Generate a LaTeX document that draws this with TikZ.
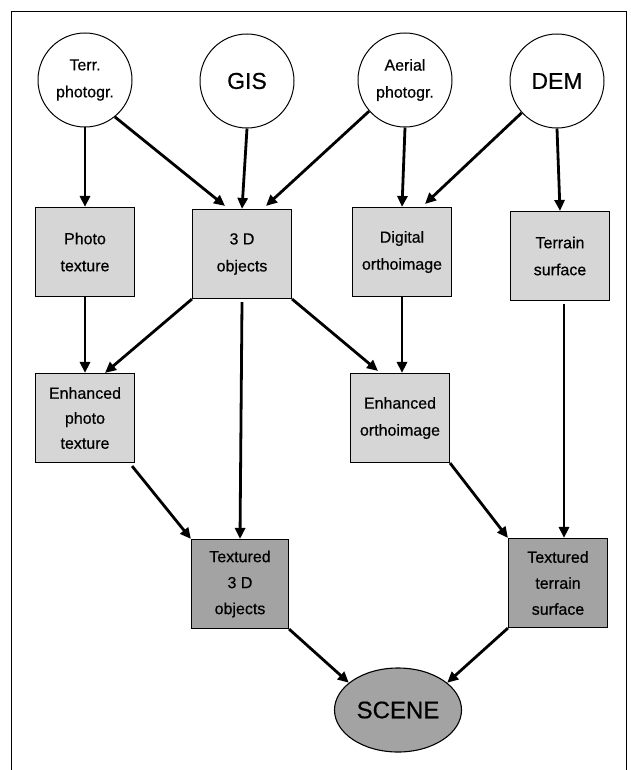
\documentclass[tikz,border=0pt]{standalone}
\usepackage{fontspec}
\setmainfont{Liberation Sans}[FakeBold=0.5]
\usetikzlibrary{arrows.meta,shapes.geometric}
\definecolor{lightbox}{gray}{0.84}
\definecolor{darkbox}{gray}{0.64}
\begin{document}
\begin{tikzpicture}[x=1pt,y=-1pt,
  src/.style={circle,draw,line width=1pt,minimum size=94pt,inner sep=0pt,align=center,font=\fontsize{16}{27}\selectfont},
  bigsrc/.style={src,font=\fontsize{23}{27}\selectfont},
  lbox/.style={rectangle,draw,line width=1.1pt,fill=lightbox,minimum width=99pt,minimum height=89pt,inner sep=0pt,align=center,font=\fontsize{16}{27}\selectfont},
  lbox3/.style={lbox,font=\fontsize{16}{25}\selectfont},
  dbox/.style={lbox,fill=darkbox,font=\fontsize{16}{26}\selectfont},
  sceneshape/.style={ellipse,draw,line width=1.1pt,fill=darkbox,minimum width=127pt,minimum height=84pt,inner sep=0pt,font=\fontsize{24}{28}\selectfont},
  conn/.style={line width=2.8pt,-{Triangle[length=11pt,width=10pt]}},
  frameline/.style={line width=1pt}
]
\useasboundingbox (0,0) rectangle (630,770);
\fill[white] (0,0) rectangle (630,770);
% frame
\coordinate (fbl) at (11,770);
\coordinate (ftl) at (11,12);
\coordinate (ftr) at (626,12);
\coordinate (fbr) at (626,770);
\draw[frameline] (fbl) -- (ftl) -- (ftr) -- (fbr);

% sources
\node[src] (terr) at (85,80) {Terr.\\photogr.};
\node[bigsrc] (gis) at (247,81) {GIS};
\node[src] (aerial) at (405,80) {Aerial\\photogr.};
\node[bigsrc] (dem) at (557,81) {DEM};

% second row
\node[lbox] (photo) at (85,252) {Photo\\texture};
\node[lbox] (obj3d) at (242,254) {3 D\\objects};
\node[lbox] (dortho) at (402,252) {Digital\\orthoimage};
\node[lbox] (tsurf) at (560,256) {Terrain\\surface};

% third row
\node[lbox3] (ephoto) at (85,418) {Enhanced\\photo\\texture};
\node[lbox] (eortho) at (400,418) {Enhanced\\orthoimage};

% fourth row
\node[dbox,minimum width=97pt] (t3d) at (240,584) {Textured\\3 D\\objects};
\node[dbox] (tterr) at (558,583) {Textured\\terrain\\surface};

% scene
\node[sceneshape] (scene) at (398,710) {SCENE};

% connectors
\draw[conn] (terr.south) -- (photo.north);
\draw[conn] (terr.-51) -- ([xshift=-17pt,yshift=3pt]obj3d.north);
\draw[conn] (gis.south) -- (obj3d.north);
\draw[conn] (aerial.221) -- ([xshift=24pt,yshift=3pt]obj3d.north);
\draw[conn] (aerial.south) -- (dortho.north);
\draw[conn] (dem.222) -- ([xshift=23pt,yshift=3pt]dortho.north);
\draw[conn] (dem.south) -- (tsurf.north);

\draw[conn] (photo.south) -- (ephoto.north);
\draw[conn] (obj3d.south west) -- ([xshift=20pt]ephoto.north);
\draw[conn] ([yshift=-3pt]obj3d.south) -- (t3d.north);
\draw[conn] (obj3d.south east) -- ([xshift=-22pt,yshift=2pt]eortho.north);
\draw[conn] (dortho.south) -- (dortho.south |- eortho.north);
\draw[conn] ([xshift=4pt,yshift=-3pt]tsurf.south) -- ([xshift=4pt]tsurf.south |- tterr.north);

\draw[conn] ([xshift=-3pt,yshift=-3pt]ephoto.south east) -- (t3d.north west);
\draw[conn] (eortho.south east) -- (tterr.north west);

\draw[conn] (t3d.south east) -- (scene.151);
\draw[conn] (tterr.south west) -- (scene.29);
\end{tikzpicture}
\end{document}
